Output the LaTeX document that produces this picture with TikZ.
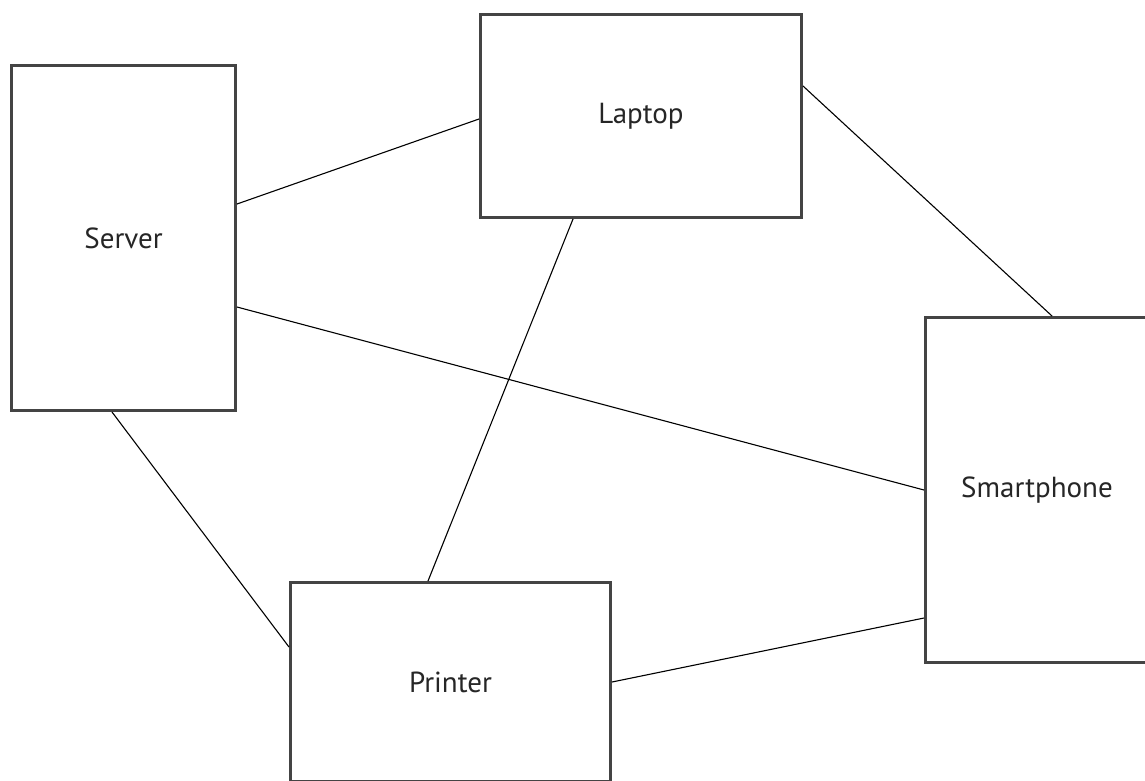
\documentclass[tikz,border=0pt]{standalone}
\usepackage{fontspec}
\setmainfont{PT Sans}
\definecolor{boxgray}{HTML}{444444}
\definecolor{txtgray}{HTML}{262626}
\begin{document}
\begin{tikzpicture}[x=1pt,y=-1pt,
  box/.style={draw=boxgray, line width=3pt, fill=white, inner sep=0pt,
              font=\fontsize{29}{34}\selectfont, text=txtgray},
  link/.style={draw=black, line width=1.1pt}]
\useasboundingbox (0,0) rectangle (1145,780);
\clip (0,0) rectangle (1145,780);
\fill[white] (0,0) rectangle (1145,780);

\node[box, minimum width=224pt, minimum height=345pt] (server) at (123.5,238) {Server};
\node[box, minimum width=321pt, minimum height=203pt] (laptop) at (641,116) {Laptop};
\node[box, minimum width=223pt, minimum height=345pt] (phone) at (1037,490) {Smartphone};
\node[box, minimum width=320pt, minimum height=199pt] (printer) at (450.5,682) {Printer};

\draw[link] ([yshift=34pt]server.east) -- ([yshift=-3pt]laptop.west);
\draw[link] ([yshift=-69pt]server.east) -- (phone.west);
\draw[link] ([xshift=-11.5pt]server.south) -- ([yshift=35pt]printer.west);
\draw[link] ([xshift=-68pt]laptop.south) -- ([xshift=-22.5pt]printer.north);
\draw[link] ([yshift=30pt]laptop.east) -- ([xshift=15pt]phone.north);
\draw[link] (printer.east) -- ([yshift=-128pt]phone.west);
\end{tikzpicture}
\end{document}
